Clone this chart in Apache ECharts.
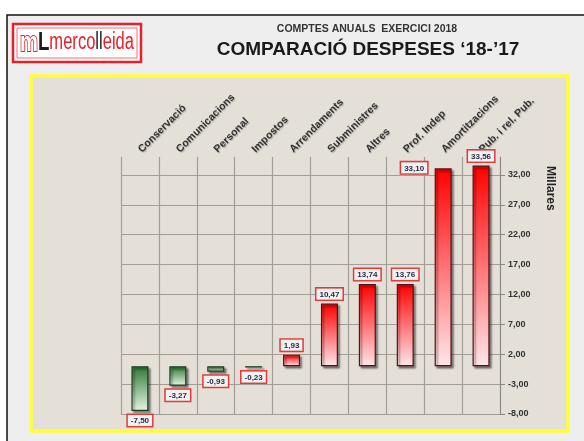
<!DOCTYPE html>
<html>
<head>
<meta charset="utf-8">
<script src="https://cdn.jsdelivr.net/npm/echarts@6/dist/echarts.min.js"></script>
<style>
html,body{margin:0;padding:0;background:#ffffff;}
#chart{width:584px;height:441px;}
</style>
</head>
<body>
<div id="chart"></div>
<script>
var categories = ['Conservació','Comunicacions','Personal','Impostos','Arrendaments','Subministres','Altres','Prof. Indep','Amortitzacions','Pub. i rel. Pub.'];
var values = [-7.50, -3.27, -0.93, -0.23, 1.93, 10.47, 13.74, 13.76, 33.10, 33.56];
var yTicks = [-8, -3, 2, 7, 12, 17, 22, 27, 32];

function fmt(v){ return v.toFixed(2).replace('.', ','); }

var redGrad = new echarts.graphic.LinearGradient(0,0,0,1,[{offset:0,color:'#ff0000'},{offset:1,color:'#ffe6ea'}]);
var greenGrad = new echarts.graphic.LinearGradient(0,0,0,1,[{offset:0,color:'#2f7a34'},{offset:1,color:'#e6f5e4'}]);

var barData = values.map(function(v, i){
  var item = {
    value: v,
    itemStyle: {
      color: v >= 0 ? redGrad : greenGrad,
      borderColor: v >= 0 ? '#5a1010' : '#1d3d1d',
      borderWidth: 1.2
    },
    label: { position: v >= 0 ? 'top' : 'bottom' }
  };
  if (categories[i] === 'Amortitzacions') { item.label.offset = [-29, 9]; }
  return item;
});

var chart = echarts.init(document.getElementById('chart'), null, {renderer:'canvas'});
chart.setOption({
  animation: false,
  backgroundColor: '#ffffff',
  graphic: [
    {type:'rect', z:-10, shape:{x:7,y:15,width:600,height:460}, style:{fill:'#efeeef', stroke:'#111', lineWidth:1.5}},
    {type:'rect', z:-9, shape:{x:31,y:76,width:537,height:355}, style:{fill:'#e4e0d8', stroke:'#ffff33', lineWidth:3.5}},
    {type:'rect', shape:{x:13,y:24,width:128,height:38}, style:{fill:'#ffffff', stroke:'#e8202a', lineWidth:2.5}},
    {type:'rect', shape:{x:17,y:28,width:120,height:30}, style:{fill:'none', stroke:'#f07070', lineWidth:1}},
    {type:'text', x:20, y:29, scaleX:0.72, style:{
      text:'{m|m}{l|L}{r|merco}{b|ll}{r|eida}',
      rich:{
        m:{fontFamily:'Liberation Sans', fontSize:28, fontWeight:'bold', fill:'#ffffff', stroke:'#e8202a', lineWidth:2},
        l:{fontFamily:'Liberation Sans', fontSize:26, fontWeight:'bold', fill:'#1a1a1a'},
        r:{fontFamily:'Liberation Sans', fontSize:23, fill:'#e8202a'},
        b:{fontFamily:'Liberation Sans', fontSize:23, fill:'#1a1a1a'}
      }
    }},
    {type:'text', x:367, y:24, style:{text:'COMPTES ANUALS  EXERCICI 2018', fontFamily:'Liberation Sans', fontSize:10.5, fontWeight:'bold', fill:'#333', align:'center'}},
    {type:'text', x:368, y:40, style:{text:'COMPARACIÓ DESPESES \u201818-\u201917', fontFamily:'Liberation Sans', fontSize:19, fontWeight:'bold', fill:'#1a1a1a', align:'center'}},
    {type:'text', x:556, y:166, rotation:-Math.PI/2, style:{text:'Millares', fontFamily:'Liberation Sans', fontSize:12, fontWeight:'bold', fill:'#222'}}
  ],
  grid: {left:121, right:84, top:157, bottom:27},
  xAxis: {
    type:'category',
    position:'top',
    data: categories,
    axisLine:{show:false},
    axisTick:{show:false},
    splitLine:{show:true, lineStyle:{color:'#a29e96', width:1.2}},
    axisLabel:{
      interval:0, rotate:45, margin:6,
      fontFamily:'Liberation Sans', fontSize:10.5, fontWeight:'bold', color:'#333',
      textShadowColor:'rgba(0,0,0,0.25)', textShadowBlur:1, textShadowOffsetX:1, textShadowOffsetY:1
    }
  },
  yAxis: {
    type:'value',
    position:'right',
    min:-8, max:35,
    axisLine:{show:true, lineStyle:{color:'#8a8780'}},
    axisTick:{show:true, customValues: yTicks, length:5, lineStyle:{color:'#8a8780'}},
    splitLine:{show:true, lineStyle:{color:'#a29e96', width:1.2}},
    axisLabel:{
      customValues: yTicks, margin:8,
      formatter:function(v){ return fmt(v); },
      fontFamily:'Liberation Sans', fontSize:9, fontWeight:'bold', color:'#333'
    }
  },
  series: [{
    type:'bar',
    data: barData,
    barWidth: 17,
    itemStyle:{shadowColor:'rgba(0,0,0,0.45)', shadowBlur:2, shadowOffsetX:2, shadowOffsetY:2},
    label:{
      show:true, distance:4,
      formatter:function(p){ return fmt(p.value); },
      fontFamily:'Liberation Sans', fontSize:8, fontWeight:'bold', color:'#1f2a44',
      backgroundColor:'#f1f1f1', borderColor:'#e03a3a', borderWidth:1.5, padding:[2,3,1,3]
    }
  }]
});
</script>
</body>
</html>
